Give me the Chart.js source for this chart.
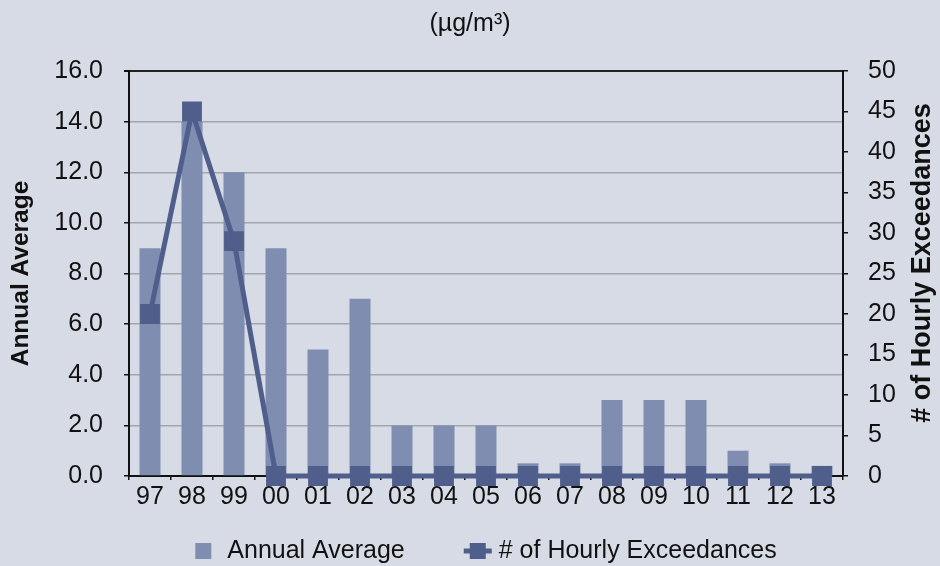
<!DOCTYPE html>
<html>
<head>
<meta charset="utf-8">
<script src="https://cdn.jsdelivr.net/npm/chart.js@4.4.0/dist/chart.umd.min.js"></script>
<style>
  html, body { margin: 0; padding: 0; background: #d7dbe5; }
</style>
</head>
<body>
<canvas id="chart" width="940" height="566"></canvas>
<script>
// data
const years = ["97", "98", "99", "00", "01", "02", "03", "04", "05", "06", "07", "08", "09", "10", "11", "12", "13"];
const annualAverage = [9.0, 14.0, 12.0, 9.0, 5.0, 7.0, 2.0, 2.0, 2.0, 0.5, 0.5, 3.0, 3.0, 3.0, 1.0, 0.5, 0.4];
const hourlyExceedances = [20, 45, 29, 0, 0, 0, 0, 0, 0, 0, 0, 0, 0, 0, 0, 0, 0];

const BAR_COLOR = "#7e8db0";
const LINE_COLOR = "#505e8c";
const TEXT_COLOR = "#111";
const FONT = "'Liberation Sans', Arial, sans-serif";

// right axis title reads bottom-to-top like the left one, chart.js rotates it the other way
const rightTitlePlugin = {
    id: "rightTitle",
    afterDraw: (chart) => {
        const { ctx } = chart;
        const text = chart.options.plugins.rightTitle.text;
        ctx.save();
        ctx.translate(923, 263);
        ctx.rotate(-Math.PI / 2);
        ctx.font = `bold 27px ${FONT}`;
        ctx.fillStyle = TEXT_COLOR;
        ctx.textAlign = "center";
        ctx.textBaseline = "middle";
        ctx.fillText(text, 0, 0);
        ctx.restore();
    },
};

// legend drawn by hand so the spacing matches the original
const legendPlugin = {
    id: "simpleLegend",
    afterDraw: (chart) => {
        const { ctx, chartArea } = chart;
        const sets = chart.data.datasets;
        const y = 551;
        ctx.save();
        ctx.font = `25px ${FONT}`;
        ctx.textBaseline = "middle";
        ctx.textAlign = "left";

        const barText = sets[0].label;
        const lineText = sets[1].label;
        const total = 16 + 16 + ctx.measureText(barText).width + 59 + 28 + 7 + ctx.measureText(lineText).width;
        let x = (chartArea.left + chartArea.right) / 2 - total / 2;

        ctx.fillStyle = sets[0].backgroundColor;
        ctx.fillRect(x, y - 8, 16, 16);
        x += 32;
        ctx.fillStyle = TEXT_COLOR;
        ctx.fillText(barText, x, y);
        x += ctx.measureText(barText).width + 59;

        ctx.fillStyle = sets[1].borderColor;
        ctx.fillRect(x, y - 2.5, 28, 5);
        ctx.fillRect(x + 6, y - 8, 16, 16);
        x += 35;
        ctx.fillStyle = TEXT_COLOR;
        ctx.fillText(lineText, x, y);
        ctx.restore();
    },
};

const ctx = document.getElementById("chart").getContext("2d");
new Chart(ctx, {
    type: "bar",
    data: {
        labels: years,
        datasets: [
            {
                type: "bar",
                label: "Annual Average",
                data: annualAverage,
                backgroundColor: BAR_COLOR,
                yAxisID: "y",
                barPercentage: 0.5,
                categoryPercentage: 1.0,
                order: 2,
            },
            {
                type: "line",
                label: "# of Hourly Exceedances",
                data: hourlyExceedances,
                borderColor: LINE_COLOR,
                backgroundColor: LINE_COLOR,
                borderWidth: 5,
                pointStyle: "rect",
                pointRadius: 10.5,
                pointHoverRadius: 10.5,
                tension: 0,
                clip: false,
                yAxisID: "y1",
                order: 1,
            },
        ],
    },
    options: {
        responsive: false,
        animation: false,
        layout: { padding: { left: 0, right: 0, top: 0, bottom: 52 } },
        plugins: {
            title: {
                display: true,
                text: "(µg/m³)",
                color: TEXT_COLOR,
                font: { family: FONT, size: 25, weight: "normal" },
                padding: { top: 9, bottom: 32 },
            },
            legend: { display: false },
            tooltip: { enabled: false },
            rightTitle: { text: "# of Hourly Exceedances" },
        },
        scales: {
            x: {
                offset: true,
                grid: {
                    offset: true,
                    drawOnChartArea: false,
                    color: TEXT_COLOR,
                    tickLength: 4,
                    lineWidth: 1.5,
                },
                border: { color: TEXT_COLOR, width: 2 },
                ticks: {
                    color: TEXT_COLOR,
                    font: { family: FONT, size: 25 },
                    padding: 2,
                    maxRotation: 0,
                    autoSkip: false,
                },
            },
            y: {
                position: "left",
                min: 0,
                max: 16,
                afterFit: (scale) => { scale.width = 129; },
                grid: {
                    color: (c) => (c.tick && c.tick.value === 16 ? "#222" : "#a2a5ad"),
                    lineWidth: (c) => (c.tick && c.tick.value === 16 ? 2 : 1.5),
                    tickLength: 5,
                    tickColor: TEXT_COLOR,
                },
                border: { color: TEXT_COLOR, width: 2 },
                ticks: {
                    stepSize: 2,
                    color: TEXT_COLOR,
                    font: { family: FONT, size: 25 },
                    padding: 21,
                    callback: (v) => Number(v).toFixed(1),
                },
                title: {
                    display: true,
                    text: "Annual Average",
                    color: TEXT_COLOR,
                    font: { family: FONT, size: 24.5, weight: "bold" },
                    padding: { top: 7, bottom: 0 },
                },
            },
            y1: {
                position: "right",
                min: 0,
                max: 50,
                afterFit: (scale) => { scale.width = 97; },
                grid: {
                    drawOnChartArea: false,
                    color: TEXT_COLOR,
                    tickLength: 5,
                    lineWidth: 1.5,
                },
                border: { color: TEXT_COLOR, width: 2 },
                ticks: {
                    stepSize: 5,
                    color: TEXT_COLOR,
                    font: { family: FONT, size: 25 },
                    padding: 20,
                },
            },
        },
    },
    plugins: [rightTitlePlugin, legendPlugin],
});
</script>
</body>
</html>
